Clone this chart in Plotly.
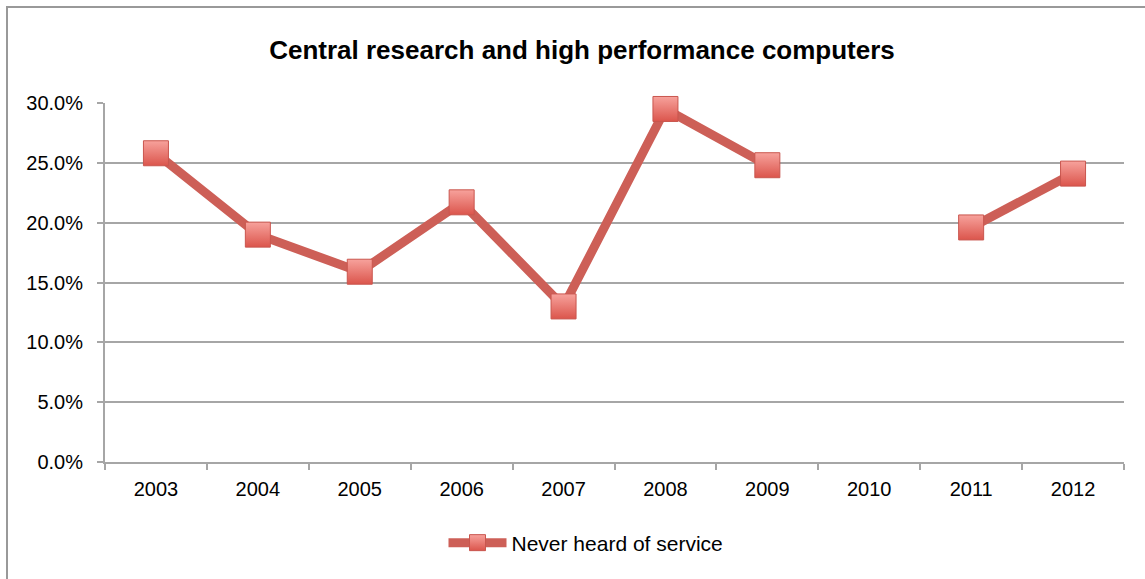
import plotly.graph_objects as go

# Survey share answering "Never heard of service" per year (2010 not surveyed)
years = ["2003", "2004", "2005", "2006", "2007", "2008", "2009", "2010", "2011", "2012"]
never_heard = [25.8, 19.0, 15.9, 21.7, 13.0, 29.5, 24.8, None, 19.6, 24.1]
y_ticks = [0, 5, 10, 15, 20, 25, 30]

W, H = 1145, 579
L, R, T, B = 105, 21, 103, 117
pw, ph = W - L - R, H - T - B

font_family = "Liberation Sans, Arial, sans-serif"
line_color = "#CD5F57"
grid_color = "#A6A6A6"

fig = go.Figure()
fig.add_trace(go.Scatter(
    x=years,
    y=never_heard,
    mode="lines+markers",
    name="Never heard of service",
    connectgaps=False,
    cliponaxis=False,
    line=dict(color=line_color, width=9),
    marker=dict(
        symbol="square",
        size=25,
        color="#F7A29C",
        gradient=dict(type="vertical", color="#DB554C"),
        line=dict(color="#C9564E", width=1),
    ),
))

fig.update_layout(
    width=W,
    height=H,
    margin=dict(l=L, r=R, t=T, b=B),
    paper_bgcolor="white",
    plot_bgcolor="white",
    font=dict(family=font_family, size=20, color="black"),
    title=dict(
        text="<b>Central research and high performance computers</b>",
        x=(582 - L) / pw,
        xref="paper",
        xanchor="center",
        y=1 - 50 / H,
        yanchor="middle",
        font=dict(size=26, family=font_family, color="black"),
    ),
    showlegend=True,
    legend=dict(
        orientation="h",
        x=(586 - L) / pw,
        xanchor="center",
        y=-(543 - (T + ph)) / ph,
        yanchor="middle",
        font=dict(size=21),
        itemwidth=58,
        bgcolor="rgba(0,0,0,0)",
    ),
    xaxis=dict(
        type="category",
        categoryorder="array",
        categoryarray=years,
        range=[-0.5, len(years) - 0.5],
        showgrid=False,
        showline=True,
        linecolor=grid_color,
        linewidth=2,
        ticks="outside",
        tickson="boundaries",
        ticklen=6,
        tickwidth=2,
        tickcolor=grid_color,
        ticklabelstandoff=8,
        zeroline=False,
    ),
    yaxis=dict(
        range=[0, 30],
        tickvals=y_ticks,
        ticktext=[f"{v:.1f}%" for v in y_ticks],
        showgrid=True,
        gridcolor=grid_color,
        gridwidth=2,
        showline=True,
        linecolor=grid_color,
        linewidth=2,
        ticks="outside",
        ticklen=6,
        tickwidth=2,
        tickcolor=grid_color,
        ticklabelstandoff=10,
        zeroline=False,
    ),
    shapes=[
        # chart-area frame (top and left edges visible inside the canvas)
        dict(
            type="rect", xref="paper", yref="paper", layer="below",
            x0=(7 - L) / pw, x1=(W + 20 - L) / pw,
            y0=-(H + 20 - T - ph) / ph, y1=1 + (T - 7) / ph,
            line=dict(color="#999999", width=2),
            fillcolor="rgba(0,0,0,0)",
        ),
    ],
)

fig.write_html("out.html")
